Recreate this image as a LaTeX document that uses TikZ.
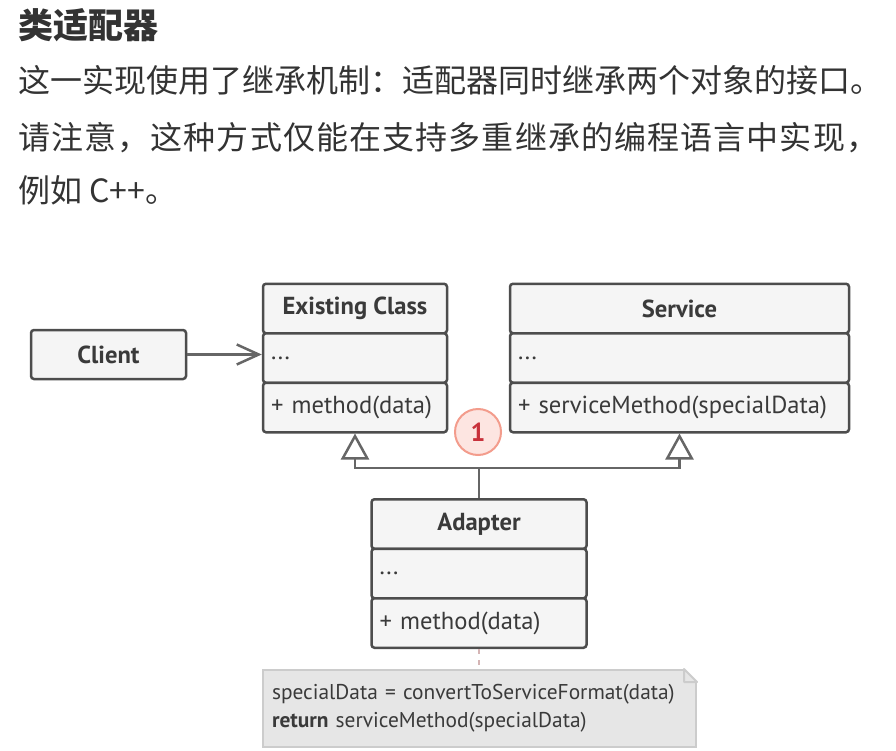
\documentclass[tikz,border=0pt]{standalone}
\usepackage{fontspec}
\setmainfont{PT Sans}
\newfontfamily\cjk{Noto Sans CJK SC}
\usetikzlibrary{arrows.meta}

\definecolor{boxfill}{HTML}{F5F5F5}
\definecolor{boxline}{HTML}{4D4D4D}
\definecolor{ink}{HTML}{3A3A3A}
\definecolor{bodyink}{HTML}{333333}
\definecolor{linkgray}{HTML}{666666}
\definecolor{notefill}{HTML}{E6E6E6}
\definecolor{noteline}{HTML}{CCCCCC}
\definecolor{badgefill}{HTML}{FDE5E1}
\definecolor{badgeline}{HTML}{F39C8C}
\definecolor{badgeink}{HTML}{C8313B}
\definecolor{dashpink}{HTML}{D5B5B5}

\begin{document}
\begin{tikzpicture}[x=1pt, y=-1pt,
    box/.style={draw=boxline, fill=boxfill, line width=2.5pt, rounded corners=3pt, minimum height=49.5pt, inner xsep=8pt, inner ysep=0pt, text=ink, font=\fontsize{24.6}{28}\selectfont},
    head/.style={box, font=\bfseries\fontsize{24.6}{28}\selectfont, align=center},
    cell/.style={box, align=left},
    title/.style={anchor=west, inner sep=0pt, text=bodyink, font=\cjk\bfseries\fontsize{35}{40}\selectfont},
    body/.style={anchor=west, inner sep=0pt, text=bodyink, font=\cjk\fontsize{32}{40}\selectfont},
    inherit/.style={draw=linkgray, line width=2.5pt, -{Triangle[open, length=26pt, width=28pt]}},
    assoc/.style={draw=linkgray, line width=2.5pt, -{Straight Barb[length=22pt, width=20pt]}},
    badge/.style={circle, draw=badgeline, fill=badgefill, line width=2pt, minimum size=46pt, inner sep=0pt, text=badgeink, font=\bfseries\fontsize{26}{28}\selectfont},
    note/.style={fill=notefill, draw=noteline, line width=2pt, minimum height=77pt, inner xsep=9pt, inner ysep=0pt, align=left, text=ink, font=\fontsize{21.4}{28}\selectfont},
    notelink/.style={draw=dashpink, line width=2pt, dash pattern=on 5pt off 6pt}
]
\useasboundingbox (0,0) rectangle (896,751);

% Texte
\node[title] (title) at (18,25) {类适配器};
\node[body] (line1) at (18,80) {这一实现使用了继承机制：适配器同时继承两个对象的接口。};
\node[body] (line2) at (18,138) {\spaceskip=0pt plus 1fil\xspaceskip=0pt plus 1fil\makebox[860pt][s]{请 注 意 ， 这 种 方 式 仅 能 在 支 持 多 重 继 承 的 编 程 语 言 中 实 现 ，}};
\node[body] (line3) at (18,190) {例如 C++。};

% Client
\node[head, minimum width=155pt, minimum height=49pt] (client) at (108.5,354.5) {Client};

% Existing Class
\node[head, minimum width=184pt] (ecHead) at (355,308.5) {Existing Class};
\node[cell, text width=168pt] (ecAttr) at (355,358) {...};
\node[cell, text width=168pt] (ecMeth) at (355,407.5) {+ method(data)};

% Service
\node[head, minimum width=339pt] (svHead) at (679.5,308.5) {Service};
\node[cell, text width=323pt] (svAttr) at (679.5,358) {...};
\node[cell, text width=323pt] (svMeth) at (679.5,407.5) {+ serviceMethod(specialData)};

% Adapter
\node[head, minimum width=215pt] (adHead) at (479,524) {Adapter};
\node[cell, text width=199pt] (adAttr) at (479,573.5) {...};
\node[cell, text width=199pt] (adMeth) at (479,623) {+ method(data)};

% Liens
\draw[assoc] (client.east) -- (client.east -| ecAttr.west);
\draw[inherit] (adHead.north) -- ++(0,-30) -| (ecMeth.south);
\draw[inherit] (adHead.north) -- ++(0,-30) -| (svMeth.south);

% Pastille
\node[badge] (one) at (478,432) {1};

% Note
\draw[notelink] (adMeth.south) -- (479,670);
\node[note, text width=415pt] (note) at (479.5,708.5) {specialData = convertToServiceFormat(data)\\\textbf{return} serviceMethod(specialData)};
\fill[white] ([xshift=-13pt]note.north east) -- ([xshift=2pt,yshift=1pt]note.north east) -- ([yshift=-13pt]note.north east) -- cycle;
\draw[noteline, line width=2pt, line join=round] ([xshift=-13pt]note.north east) -- ([yshift=-13pt]note.north east) -- ([xshift=-13pt,yshift=-13pt]note.north east) -- cycle;

\end{tikzpicture}
\end{document}
